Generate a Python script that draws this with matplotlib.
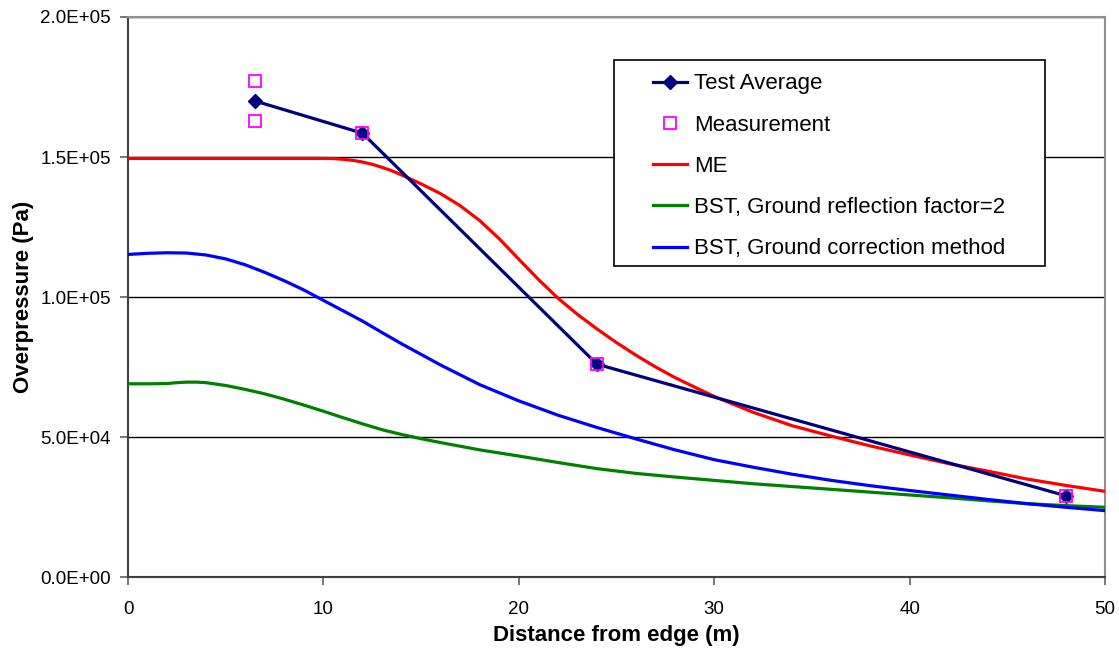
import matplotlib
matplotlib.use("Agg")
import matplotlib.pyplot as plt
from matplotlib.patches import Rectangle
from matplotlib.ticker import FuncFormatter, MultipleLocator

plt.rcParams['font.family'] = ['Liberation Sans', 'DejaVu Sans']

# Test data
test_x = [6.5, 12, 24, 48]
test_avg = [170000, 158500, 76000, 29000]
meas_x = [6.5, 6.5, 12, 24, 48]
meas_y = [177300, 163000, 158500, 76000, 29000]

# Multi-Energy prediction
me_x = [0, 5, 10, 10.5, 11, 11.5, 12, 12.5, 13, 13.5, 14, 15, 16, 17, 18, 19,
        20, 21, 22, 23, 24, 25, 26, 27, 28, 29, 30, 32, 34, 36, 38, 40, 42, 44,
        46, 48, 50]
me_y = [149500, 149500, 149500, 149450, 149200, 148800, 148200, 147400, 146300,
        145100, 143600, 140400, 136900, 132600, 127300, 120800, 113500, 106300,
        99600, 93800, 88600, 83700, 79200, 75000, 71200, 67800, 64500, 58800,
        54000, 50300, 46800, 43600, 40500, 37800, 35000, 32700, 30600]

# Baker-Strehlow-Tang, ground reflection factor = 2
bst_refl_x = [0, 1, 2, 2.5, 3, 3.5, 4, 5, 6, 7, 8, 9, 10, 11, 12, 13, 14, 15,
              16, 18, 20, 22, 24, 26, 28, 30, 32, 34, 36, 38, 40, 42, 44, 46,
              48, 50]
bst_refl = [69000, 69000, 69100, 69400, 69600, 69600, 69400, 68400, 67000, 65400,
            63500, 61400, 59200, 56900, 54700, 52600, 50900, 49400, 48000, 45400,
            43200, 40900, 38700, 37000, 35700, 34500, 33300, 32300, 31300, 30300,
            29300, 28300, 27200, 26200, 25500, 24900]

# Baker-Strehlow-Tang, ground correction method
bst_corr_x = [0, 1, 2, 3, 4, 5, 6, 7, 8, 9, 10, 11, 12, 13, 14, 15, 16, 18, 20,
              22, 24, 26, 28, 30, 32, 34, 36, 38, 40, 42, 44, 46, 48, 50]
bst_corr = [115200, 115600, 115800, 115700, 115000, 113600, 111500, 108800,
            105800, 102500, 98800, 95100, 91400, 87300, 83300, 79500, 75700,
            68700, 62900, 57800, 53400, 49300, 45400, 41900, 39200, 36700, 34500,
            32600, 30900, 29300, 27700, 26200, 24900, 23700]

W, H = 1119, 655
fig = plt.figure(figsize=(W / 100, H / 100), dpi=100)
L, R, T, B = 128, 1105, 17, 577
ax = fig.add_axes([L / W, 1 - B / H, (R - L) / W, (B - T) / H])

lw = 2.3
ax.plot(me_x, me_y, color='#FF0000', lw=lw, label='ME', zorder=3)
ax.plot(bst_refl_x, bst_refl, color='#008000', lw=lw,
        label='BST, Ground reflection factor=2', zorder=3)
ax.plot(bst_corr_x, bst_corr, color='#0000FF', lw=lw,
        label='BST, Ground correction method', zorder=3)
ax.plot(test_x, test_avg, color='#000080', lw=lw, marker='D', markersize=7,
        label='Test Average', zorder=4)
ax.plot(meas_x, meas_y, ls='none', marker='s', markersize=9, mfc='none',
        mec='#FF00FF', mew=1.3, label='Measurement', zorder=5)

ax.set_xlim(0, 50)
ax.set_ylim(0, 200000)
ax.xaxis.set_major_locator(MultipleLocator(10))
ax.yaxis.set_major_locator(MultipleLocator(50000))
ax.yaxis.set_major_formatter(FuncFormatter(lambda v, p: "{:.1E}".format(v)))
ax.yaxis.grid(True, color='black', lw=1.0)
ax.set_axisbelow(True)

for s in ['left', 'bottom']:
    ax.spines[s].set_color('#404040')
    ax.spines[s].set_linewidth(1.5)
for s in ['top', 'right']:
    ax.spines[s].set_color('#909090')
    ax.spines[s].set_linewidth(1.5)
ax.tick_params(axis='both', direction='out', length=6, width=1.2,
               color='#606060', labelsize=13.5, labelcolor='black')
ax.tick_params(axis='y', pad=6.5)
ax.tick_params(axis='x', pad=11)

ax.set_xlabel('Distance from edge (m)', fontsize=16, fontweight='bold',
              labelpad=5)
ax.set_ylabel('Overpressure (Pa)', fontsize=16, fontweight='bold',
              labelpad=4)

# Legend box
def to_axes(px, py):
    return (px - L) / (R - L), (B - py) / (B - T)

bx0, by0 = to_axes(614, 266)
bx1, by1 = to_axes(1045, 60)
ax.add_patch(Rectangle((bx0, by0), bx1 - bx0, by1 - by0, transform=ax.transAxes,
                       facecolor='white', edgecolor='black', lw=1.2, zorder=6))

handles, labels = ax.get_legend_handles_labels()
order = [3, 4, 0, 1, 2]
ax_, ay_ = to_axes(653, 73.5)
leg = ax.legend([handles[i] for i in order], [labels[i] for i in order],
                loc='upper left', bbox_to_anchor=(ax_, ay_), frameon=False,
                fontsize=16, handlelength=1.55, handletextpad=0.3,
                labelspacing=0.91, borderpad=0, borderaxespad=0)
leg.set_zorder(7)

fig.savefig('out.png', dpi=100, facecolor='white')
